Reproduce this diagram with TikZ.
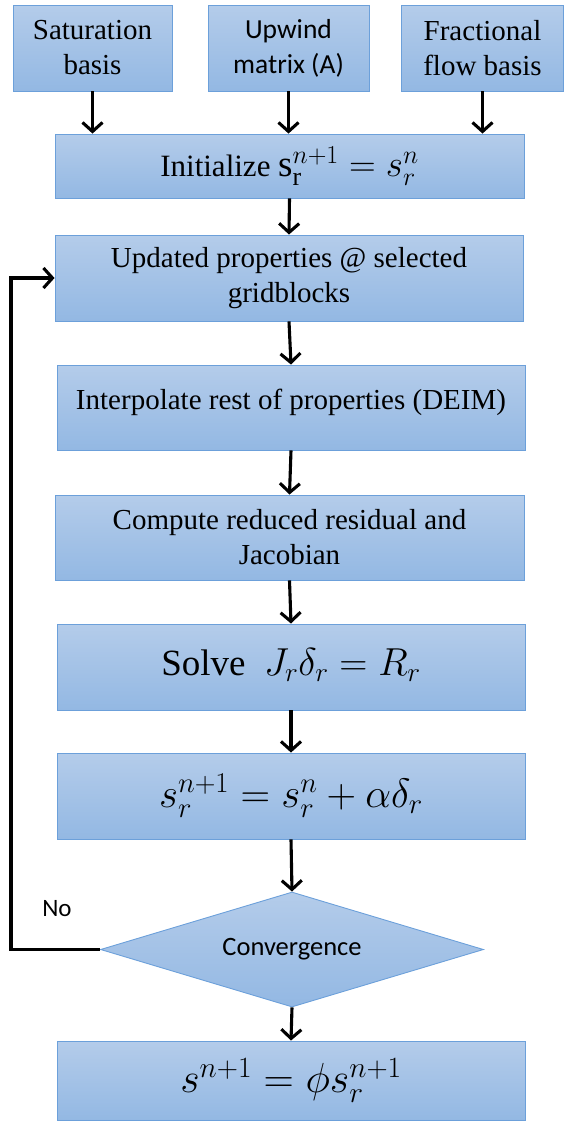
\RequirePackage{fix-cm}
\documentclass[tikz,border=0pt]{standalone}
\usepackage{fontspec}
\setmainfont{Liberation Serif}
\newfontfamily\calib{Carlito}
\usetikzlibrary{shapes.geometric,arrows.meta}
\definecolor{bt}{RGB}{180,204,234}
\definecolor{bb}{RGB}{147,184,227}
\definecolor{bd}{RGB}{108,160,218}
\tikzset{
  box/.style={draw=bd, line width=0.9pt, top color=bt, bottom color=bb, rectangle,
    inner sep=0pt, align=center, text=black},
  txt/.style={font=\fontsize{29}{35}\selectfont},
  big/.style={font=\fontsize{37}{42}\selectfont},
  arr/.style={line width=3.1pt, -{Straight Barb[length=9pt,width=20pt]}},
}
\begin{document}
\begin{tikzpicture}[x=1pt,y=-1pt]
\useasboundingbox (0,0) rectangle (564,1122);
\node[box,txt,minimum width=159pt,minimum height=86pt] (sat) at (92.5,48) {Saturation\\basis};
\node[box,minimum width=161pt,minimum height=86pt,font=\calib\fontsize{27.5}{35}\selectfont] (up) at (288.5,48) {Upwind\\matrix (A)};
\node[box,txt,minimum width=162pt,minimum height=86pt] (frac) at (482.5,48) {Fractional\\flow basis};
\node[box,minimum width=469pt,minimum height=64pt,font=\fontsize{31}{36}\selectfont] (init) at (289.5,166) {Initialize {\fontsize{37}{40}\selectfont$\mathrm{s}_{\mathrm{r}}^{n+1}=s_r^n$}};
\node[box,txt,minimum width=468pt,minimum height=86pt] (upd) at (289,278) {Updated properties @ selected\\gridblocks};
\node[box,txt,minimum width=468pt,minimum height=85pt] (interp) at (291,407.5) {\raisebox{16pt}{Interpolate rest of properties (DEIM)}};
\node[box,txt,minimum width=469pt,minimum height=85pt] (comp) at (289.5,537.5) {Compute reduced residual and\\Jacobian};
\node[box,big,minimum width=468pt,minimum height=86pt] (solve) at (291,667) {\raisebox{10pt}{Solve\enspace {\fontsize{39}{42}\selectfont$J_r\delta_r=R_r$}}};
\node[box,minimum width=468pt,minimum height=86pt,font=\fontsize{41}{44}\selectfont] (supd) at (291,796) {\raisebox{4pt}{$s_r^{n+1}=s_r^n+\alpha\delta_r$}};
\node[box,shape=diamond,aspect=3.33,minimum width=383pt,minimum height=115pt,font=\calib\fontsize{26.5}{30}\selectfont] (conv) at (292,949.5) {Convergence};
\node[box,minimum width=468pt,minimum height=79pt,font=\fontsize{42}{44}\selectfont] (final) at (291,1080.5) {\raisebox{4pt}{$s^{n+1}=\phi s_r^{n+1}$}};
\node[font=\calib\fontsize{25}{28}\selectfont] (no) at (57,909) {No};
\coordinate (lp) at (11,949.5);
\draw[arr] (sat.south) -- (sat.south |- init.north);
\draw[arr] (up.south) -- (up.south |- init.north);
\draw[arr] (frac.south) -- (frac.south |- init.north);
\draw[arr] (init.south) -- (upd.north);
\draw[arr] (upd.south) -- (interp.north);
\draw[arr] (interp.south) -- (comp.north);
\draw[arr] (comp.south) -- (solve.north);
\draw[arr] (solve.south) -- (supd.north);
\draw[arr] (supd.south) -- (conv.north);
\draw[arr] (conv.south) -- (final.north);
\draw[arr] (conv.west) -- (lp) |- (upd.west);
\end{tikzpicture}
\end{document}
